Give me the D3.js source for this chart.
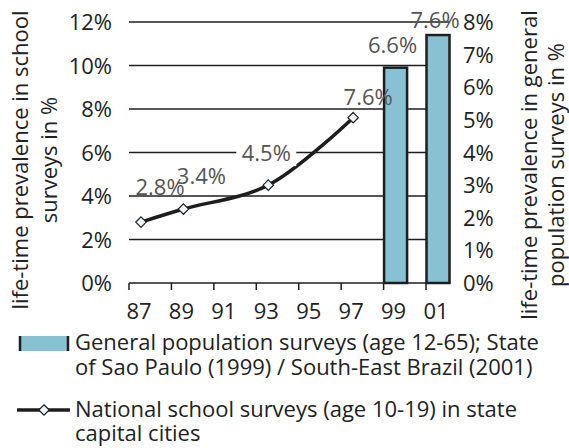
<!DOCTYPE html>
<html>
<head>
<meta charset="utf-8">
<script src="https://cdn.jsdelivr.net/npm/d3@7"></script>
<style>
  body { margin: 0; background: #fff; }
  svg { display: block; font-family: "Open Sans", sans-serif; }
</style>
</head>
<body>
<svg id="chart" width="569" height="448"></svg>
<script>
// chart values
const years= ['87', '89', '91', '93', '95', '97', '99', '01'];
const schoolYears= ['87', '89', '93', '97'];
const schoolValues= [2.8, 3.4, 4.5, 7.6];
const generalYears= ['99', '01'];
const generalValues= [6.6, 7.6];
const leftTicks= [0, 2, 4, 6, 8, 10, 12];
const rightTicks= [0, 1, 2, 3, 4, 5, 6, 7, 8];
const legendBar= ['General population surveys (age 12-65); State', 'of Sao Paulo (1999) / South-East Brazil (2001)'];
const legendLine= ['National school surveys (age 10-19) in state', 'capital cities'];

// label nudges (px) relative to their mark
const schoolNudge= [[19, -27], [18, -25], [-2, -24], [15, -13]];
const generalNudge= [[-3, -15], [-3, -7]];

const svg= d3.select('#chart');
const L= 129, T= 22, B= 283;
const step= 42.43;
const fs= 22;

const x= d3.scaleBand().domain(years).range([L, L+step*years.length]);
const off= 12;
const cx= c => x(c)+off;
const R= x('01')+off+11.5;
const yL= d3.scaleLinear().domain([0, 12]).range([B, T]);
const yR= d3.scaleLinear().domain([0, 8]).range([B, T]);

const ink= '#1e1e1e';

// gridlines
svg.append('g')
  .selectAll('line').data(leftTicks.filter(d => d > 0)).join('line')
  .attr('x1', L).attr('x2', R)
  .attr('y1', d => yL(d)).attr('y2', d => yL(d))
  .attr('stroke', ink).attr('stroke-width', 1.5);

// left axis labels
svg.append('g')
  .selectAll('text').data(leftTicks).join('text')
  .attr('x', 112).attr('y', d => yL(d)+8)
  .attr('text-anchor', 'end')
  .attr('font-size', fs).attr('fill', '#222')
  .text(d => d+'%');

// right axis labels
svg.append('g')
  .selectAll('text').data(rightTicks).join('text')
  .attr('x', 463).attr('y', d => yR(d)+8)
  .attr('font-size', fs).attr('fill', '#222')
  .text(d => d+'%');

// x axis
const xg= svg.append('g');
xg.append('line').attr('x1', L).attr('x2', R).attr('y1', B).attr('y2', B)
  .attr('stroke', ink).attr('stroke-width', 1.5);
xg.selectAll('.tk').data(years).join('line').attr('class', 'tk')
  .attr('x1', d => x(d)).attr('x2', d => x(d))
  .attr('y1', B).attr('y2', B+7)
  .attr('stroke', ink).attr('stroke-width', 1.5);
xg.selectAll('text').data(years).join('text')
  .attr('x', d => x(d)+10).attr('y', 319)
  .attr('text-anchor', 'middle')
  .attr('font-size', fs).attr('fill', '#222')
  .text(d => d);

// bars
const bars= generalYears.map((c, i) => ({c, v: generalValues[i]}));
svg.append('g')
  .selectAll('rect').data(bars).join('rect')
  .attr('x', d => cx(d.c)-11.5).attr('width', 23)
  .attr('y', d => yR(d.v)).attr('height', d => B-yR(d.v))
  .attr('fill', '#88c1d2').attr('stroke', ink).attr('stroke-width', 2.5);

// school line
const pts= schoolYears.map((c, i) => ({c, v: schoolValues[i]}));
const line= d3.line().x(d => cx(d.c)).y(d => yL(d.v)).curve(d3.curveCatmullRom.alpha(0.5));
svg.append('path').attr('d', line(pts))
  .attr('fill', 'none').attr('stroke', ink).attr('stroke-width', 3.5);

const diamond= d3.symbol().type(d3.symbolDiamond2).size(70);
svg.append('g')
  .selectAll('path').data(pts).join('path')
  .attr('transform', d => `translate(${cx(d.c)},${yL(d.v)})`)
  .attr('d', diamond)
  .attr('fill', '#eef5fc').attr('stroke', ink).attr('stroke-width', 1.2);

// data labels
const labelG= svg.append('g').attr('font-size', fs).attr('fill', '#555').attr('text-anchor', 'middle');
pts.forEach((d, i) => {
  const lx= cx(d.c)+schoolNudge[i][0], ly= yL(d.v)+schoolNudge[i][1];
  if (d.c === '93') {
    labelG.append('rect').attr('x', lx-30).attr('y', ly-19).attr('width', 60).attr('height', 24).attr('fill', '#fff');
  }
  labelG.append('text').attr('x', lx).attr('y', ly).text(d.v.toFixed(1)+'%');
});
bars.forEach((d, i) => {
  labelG.append('text')
    .attr('x', cx(d.c)+generalNudge[i][0]).attr('y', yR(d.v)+generalNudge[i][1])
    .text(d.v.toFixed(1)+'%');
});

// axis titles
const titleL= svg.append('text').attr('transform', 'translate(0,160) rotate(-90)')
  .attr('text-anchor', 'middle').attr('font-size', fs).attr('fill', '#222');
titleL.append('tspan').attr('x', 0).attr('y', 28).text('life-time prevalence in school');
titleL.append('tspan').attr('x', 0).attr('y', 57).text('surveys in %');

const titleR= svg.append('text').attr('transform', 'translate(0,165) rotate(-90)')
  .attr('text-anchor', 'middle').attr('font-size', fs).attr('fill', '#222');
titleR.append('tspan').attr('x', 0).attr('y', 537).text('life-time prevalence in general');
titleR.append('tspan').attr('x', 0).attr('y', 564).text('population surveys in %');

// legend
const lg= svg.append('g');
lg.append('rect').attr('x', 19).attr('y', 336).attr('width', 50).attr('height', 15).attr('fill', '#88c1d2');
lg.append('line').attr('x1', 20).attr('x2', 20).attr('y1', 336).attr('y2', 351).attr('stroke', ink).attr('stroke-width', 2.5);
lg.append('line').attr('x1', 68).attr('x2', 68).attr('y1', 336).attr('y2', 351).attr('stroke', ink).attr('stroke-width', 2.5);
lg.selectAll('.lb').data(legendBar).join('text').attr('class', 'lb')
  .attr('x', 75).attr('y', (d, i) => 350+i*25)
  .attr('font-size', fs).attr('fill', '#222').text(d => d);

lg.append('line').attr('x1', 17).attr('x2', 70).attr('y1', 410).attr('y2', 410)
  .attr('stroke', ink).attr('stroke-width', 3.5);
lg.append('path').attr('transform', 'translate(44,410)').attr('d', diamond)
  .attr('fill', '#eef5fc').attr('stroke', ink).attr('stroke-width', 1.2);
lg.selectAll('.ll').data(legendLine).join('text').attr('class', 'll')
  .attr('x', 75).attr('y', (d, i) => 417+i*24)
  .attr('font-size', fs).attr('fill', '#222').text(d => d);
</script>
</body>
</html>
